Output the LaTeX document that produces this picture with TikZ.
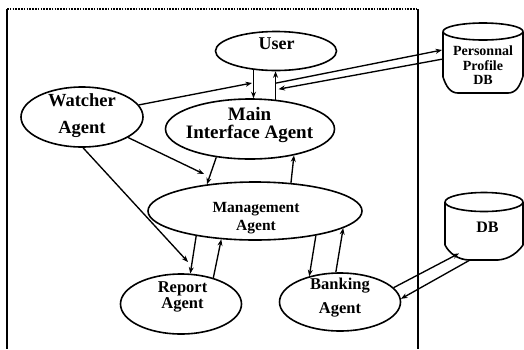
\documentclass[tikz,border=0pt]{standalone}
\usepackage{fontspec}
\setmainfont{Liberation Serif}
\usetikzlibrary{shapes.geometric,arrows.meta,calc}

\begin{document}
\begin{tikzpicture}[x=1pt,y=-1pt,
  agent/.style={ellipse,draw,line width=1.6pt,inner sep=0pt},
  store/.style={line width=1.6pt,line join=round},
  lbl/.style={align=center,inner sep=0pt},
  link/.style={line width=1.35pt,-{Stealth[length=6.5pt,width=5pt]}},
  frame/.style={line width=1.2pt},
]
\useasboundingbox (0,0) rectangle (524,349);

% system boundary: dotted top, solid sides running off the bottom
\coordinate (ftl) at (7,9);
\coordinate (ftr) at (418,9);
\coordinate (fbl) at (7,349);
\coordinate (fbr) at (418,349);
\draw[frame,dash pattern=on 1.6pt off 1.2pt] (ftl) -- (ftr);
\draw[frame] (ftl) -- (fbl);
\draw[frame] (ftr) -- (fbr);

% agents
\node[agent,minimum width=121pt,minimum height=39pt] (user)    at (276,51)  {};
\node[agent,minimum width=169pt,minimum height=60pt] (main)    at (250,129) {};
\node[agent,minimum width=122pt,minimum height=60pt] (watcher) at (82,117)  {};
\node[agent,minimum width=214pt,minimum height=58pt] (mgmt)    at (255,211) {};
\node[agent,minimum width=121pt,minimum height=60pt] (report)  at (181,304) {};
\node[agent,minimum width=121pt,minimum height=58pt] (bank)    at (340,302) {};

\node[lbl,font=\bfseries\fontsize{18}{27}\selectfont] (userT) at (276.5,43.5) {User};
\node[lbl,font=\bfseries\fontsize{18.5}{27}\selectfont] (watcherT) at (82,116) {Watcher\\Agent};
\node[lbl,font=\bfseries\fontsize{19}{18}\selectfont] (mainT) at (249.5,124.5) {Main\\Interface Agent};
\node[lbl,font=\bfseries\fontsize{15.5}{18}\selectfont] (mgmtT) at (256,218.5) {Management\\Agent};
\node[lbl,font=\bfseries\fontsize{16.5}{16}\selectfont] (reportT) at (182.5,297) {Report\\Agent};
\node[lbl,font=\bfseries\fontsize{16.5}{24}\selectfont] (bankT) at (340,297.5) {Banking\\Agent};

% profile store
\draw[store] (483,31.5) ellipse [x radius=40,y radius=8.5];
\draw[store] (443,31.5) -- (443,77) .. controls (446,86) and (450,93) .. (458,93)
  -- (508,93) .. controls (516,93) and (520,86) .. (523,76) -- (523,31.5);
\node[lbl,font=\bfseries\fontsize{14}{14.5}\selectfont] (pdbT) at (483,65.5) {Personnal\\Profile\\DB};
\coordinate (pdbIn)  at (442,50);
\coordinate (pdbOut) at (443,59);

% bank store
\draw[store] (484,202) ellipse [x radius=39,y radius=9.5];
\draw[store] (445,202) -- (445,245) .. controls (449,253) and (458,260) .. (470,260)
  -- (498,260) .. controls (510,259) and (518,252) .. (523,245) -- (523,202);
\node[lbl,font=\bfseries\fontsize{16}{18}\selectfont] (dbT) at (487.5,227.5) {DB};
\coordinate (dbIn)  at (459,253.4);
\coordinate (dbOut) at (470,260);

% free arrow ends
\coordinate (w2u) at (252,83);
\coordinate (w2m) at (204,174);
\coordinate (w2r) at (188,262);

% user <-> main interface
\draw[link] (user.220) -- (user.220 |- main.north);
\draw[link] (main.49) -- coordinate[pos=0.58] (c2a) coordinate[pos=0.35] (c2b) (main.49 |- user.south);

% profile store <-> main interface link
\draw[link] (c2a) -- (pdbIn);
\draw[link,shorten >=3pt] (pdbOut) -- (c2b);

% watcher
\draw[link] (watcher.12) -- (w2u);
\draw[link] (watcher.336) -- (w2m);
\draw[link] (watcher.272) -- (w2r);

% main interface <-> management
\draw[link] (main.220) -- (mgmt.151);
\draw[link] (mgmt.38) -- (main.329);

% management <-> report
\draw[link] (mgmt.203) -- (report.73);
\draw[link] (report.39) -- (mgmt.220);

% management <-> banking
\draw[link] (mgmt.338) -- (bank.140);
\draw[link] (bank.98) -- (mgmt.349);

% banking <-> bank store
\draw[link] (bank.15) -- (dbIn);
\draw[link] (dbOut) -- (bank.3);
\end{tikzpicture}
\end{document}
